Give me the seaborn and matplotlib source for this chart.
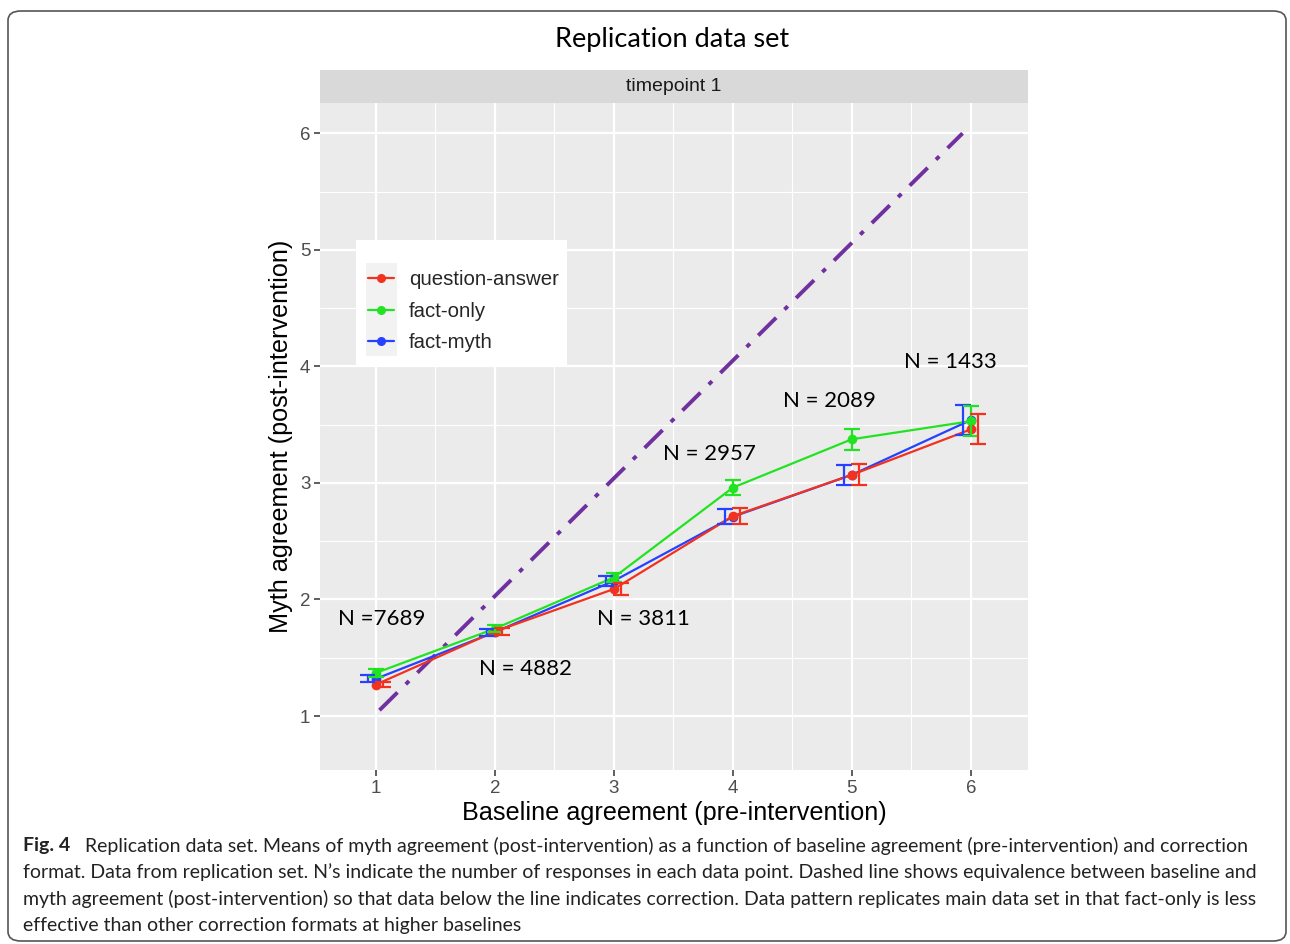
import numpy as np
import pandas as pd
import matplotlib
matplotlib.use("Agg")
import matplotlib.pyplot as plt
from matplotlib.patches import Rectangle, FancyBboxPatch
from matplotlib.lines import Line2D
import seaborn as sns

# ---------------- data ----------------
baseline = [1, 2, 3, 4, 5, 6]
formats = ["question-answer", "fact-only", "fact-myth"]
qa_mean = [1.27, 1.725, 2.09, 2.715, 3.07, 3.46]
fo_mean = [1.37, 1.75, 2.19, 2.96, 3.375, 3.53]
fm_mean = [1.32, 1.72, 2.16, 2.71, 3.07, 3.54]
qa_err = [0.025, 0.03, 0.055, 0.07, 0.09, 0.13]
fo_err = [0.035, 0.03, 0.04, 0.065, 0.09, 0.13]
fm_err = [0.03, 0.03, 0.045, 0.065, 0.085, 0.13]
n_labels = ["N =7689", "N = 4882", "N = 3811", "N = 2957", "N = 2089", "N = 1433"]
n_label_x = [1.05, 2.26, 3.25, 3.80, 4.81, 5.83]
n_label_y = [1.83, 1.40, 1.83, 3.25, 3.70, 4.04]
identity_x = [1.03, 5.93]
identity_y = [1.05, 6.0]

colors = {"question-answer": "#F2311F", "fact-only": "#22E322", "fact-myth": "#2442FF"}
dodge = {"question-answer": 0.06, "fact-only": 0.0, "fact-myth": -0.065}
draw_order = ["fact-myth", "fact-only", "question-answer"]

df = pd.DataFrame({
    "baseline": baseline * 3,
    "format": [f for f in formats for _ in baseline],
    "mean": qa_mean + fo_mean + fm_mean,
    "err": qa_err + fo_err + fm_err,
})

# ---------------- figure ----------------
W, H = 1290, 944
sns.set_theme(style="white")
plt.rcParams["font.family"] = ["Liberation Sans", "DejaVu Sans"]
fig = plt.figure(figsize=(W / 100, H / 100), dpi=100)

def fx(px):
    return px / W

def fy(py):
    return 1 - py / H

ax = fig.add_axes([fx(320), fy(770), fx(1028) - fx(320), fy(103) - fy(770)])
ax.set_facecolor("#EBEBEB")
for s in ax.spines.values():
    s.set_visible(False)

ax.set_xlim(0.53, 6.48)
ax.set_ylim(0.537, 6.26)
ax.set_xticks(baseline)
ax.set_yticks([1, 2, 3, 4, 5, 6])
ax.set_xticks([1.5, 2.5, 3.5, 4.5, 5.5], minor=True)
ax.set_yticks([1.5, 2.5, 3.5, 4.5, 5.5], minor=True)
ax.grid(which="major", color="white", linewidth=1.6)
ax.grid(which="minor", color="white", linewidth=0.8)
ax.set_axisbelow(True)
ax.tick_params(axis="both", which="major", length=4, width=1.1, color="#333333",
               labelcolor="#4D4D4D", labelsize=13.5, pad=3, bottom=True, left=True)
ax.tick_params(axis="both", which="minor", length=0)

# identity line
ax.plot(identity_x, identity_y, color="#7030A0", linewidth=2.8,
        linestyle=(0, (6.5, 3.0, 1.2, 3.0)), zorder=2, solid_capstyle="butt")

# lines + points
sns.lineplot(data=df, x="baseline", y="mean", hue="format", hue_order=draw_order,
             palette=colors, marker="o", markersize=7, markeredgewidth=0,
             linewidth=1.6, ax=ax, legend=False, zorder=3, errorbar=None)

# dodged error bars
for f in draw_order:
    sub = df[df["format"] == f]
    ax.errorbar(sub["baseline"] + dodge[f], sub["mean"], yerr=sub["err"],
                fmt="none", ecolor=colors[f], elinewidth=1.6, capsize=6,
                capthick=1.6, zorder=4)

# N annotations
for lab, x, y in zip(n_labels, n_label_x, n_label_y):
    ax.text(x, y, lab, ha="center", va="center", fontsize=16,
            family=["Lato", "DejaVu Sans"], color="black", zorder=5)

ax.set_xlabel("Baseline agreement (pre-intervention)", fontsize=18.2, color="black",
              labelpad=3)
ax.set_ylabel("Myth agreement (post-intervention)", fontsize=18.2, color="black",
              labelpad=5)

# facet strip
strip = fig.add_axes([fx(320), fy(103), fx(1028) - fx(320), fy(70) - fy(103)])
strip.set_facecolor("#D9D9D9")
strip.set_xticks([])
strip.set_yticks([])
for s in strip.spines.values():
    s.set_visible(False)
strip.text(0.5, 0.5, "timepoint 1", ha="center", va="center", fontsize=14,
           color="#1A1A1A", transform=strip.transAxes)

# legend (inside panel)
fig.patches.append(Rectangle((fx(356), fy(366)), fx(567) - fx(356), fy(240) - fy(366),
                             transform=fig.transFigure, facecolor="white",
                             edgecolor="none", zorder=3))
fig.patches.append(Rectangle((fx(366), fy(356)), fx(397) - fx(366), fy(263) - fy(356),
                             transform=fig.transFigure, facecolor="#F2F2F2",
                             edgecolor="none", zorder=4))
handles = [Line2D([0], [0], color=colors[f], marker="o", markersize=6.5,
                  markeredgewidth=0, linewidth=1.6) for f in formats]
leg = fig.legend(handles, formats, loc="upper left",
                 bbox_to_anchor=(fx(368), fy(270)), frameon=False, fontsize=14.7,
                 handlelength=1.27, handletextpad=0.72, labelspacing=0.62,
                 borderpad=0, borderaxespad=0)
leg.set_zorder(5)

# title
fig.text(fx(672), fy(39), "Replication data set", ha="center", va="center",
         fontsize=19.5, family=["Lato", "DejaVu Sans"], color="black")

# caption
cap_lines = [
    "Replication data set. Means of myth agreement (post-intervention) as a function of baseline agreement (pre-intervention) and correction",
    "format. Data from replication set. N\u2019s indicate the number of responses in each data point. Dashed line shows equivalence between baseline and",
    "myth agreement (post-intervention) so that data below the line indicates correction. Data pattern replicates main data set in that fact-only is less",
    "effective than other correction formats at higher baselines",
]
cap_y = [846, 872, 899, 926]
fig.text(fx(23), fy(cap_y[0]), "Fig. 4", ha="left", va="center", fontsize=14,
         fontweight="bold", family=["Lato", "DejaVu Sans"], color="#222222")
fig.text(fx(85), fy(cap_y[0]), cap_lines[0], ha="left", va="center", fontsize=14.0,
         family=["Lato", "DejaVu Sans"], color="#222222")
for line, y in zip(cap_lines[1:], cap_y[1:]):
    fig.text(fx(23), fy(y), line, ha="left", va="center", fontsize=14.0,
             family=["Lato", "DejaVu Sans"], color="#222222")

# rounded border
fig.patches.append(FancyBboxPatch((fx(8), fy(941)), fx(1286) - fx(8), fy(11) - fy(941),
                                  boxstyle="round,pad=0,rounding_size=0.01",
                                  transform=fig.transFigure, facecolor="none",
                                  edgecolor="#555555", linewidth=1.2, zorder=10))

fig.savefig("out.png", dpi=100)
